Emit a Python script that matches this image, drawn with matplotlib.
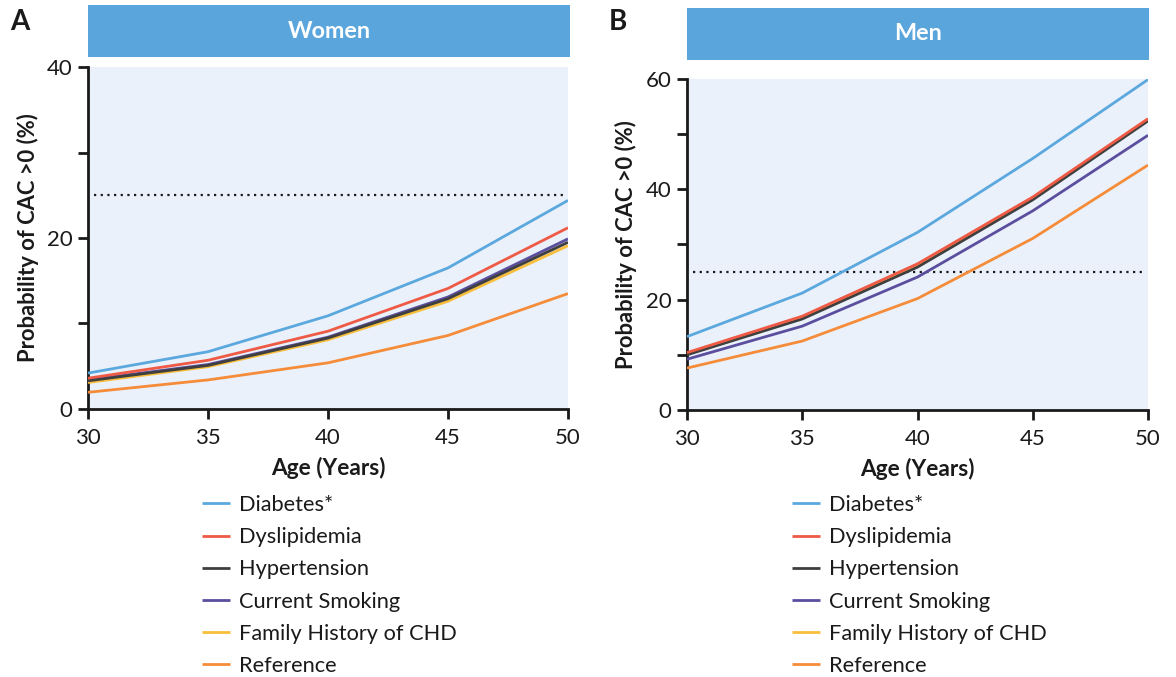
import matplotlib
matplotlib.use("Agg")
import matplotlib.pyplot as plt
from matplotlib.patches import Rectangle

plt.rcParams['font.family'] = ['Lato', 'DejaVu Sans']

ages = [30, 35, 40, 45, 50]
series_names = ["Diabetes*", "Dyslipidemia", "Hypertension", "Current Smoking",
                "Family History of CHD", "Reference"]
series_colors = ["#5BA8DE", "#EE5A45", "#3F3F3F", "#5B4E9E", "#F8BE3C", "#F58C3A"]

# Predicted probability of CAC > 0 (%) by age
women_diabetes = [4.2, 6.7, 10.9, 16.5, 24.4]
women_dyslipidemia = [3.6, 5.7, 9.1, 14.1, 21.2]
women_hypertension = [3.3, 5.1, 8.3, 12.9, 19.5]
women_smoking = [3.4, 5.2, 8.4, 13.1, 19.9]
women_family_history = [3.1, 4.95, 8.1, 12.6, 19.1]
women_reference = [1.95, 3.4, 5.4, 8.6, 13.5]

men_diabetes = [13.3, 21.2, 32.2, 45.6, 59.9]
men_dyslipidemia = [10.4, 17.0, 26.5, 38.6, 52.8]
men_hypertension = [10.0, 16.5, 25.9, 38.1, 52.4]
men_smoking = [9.2, 15.2, 24.1, 36.1, 49.8]
men_family_history = [10.3, 16.8, 26.4, 38.5, 52.7]
men_reference = [7.6, 12.5, 20.2, 31.1, 44.4]

threshold = 25

panels = [
    dict(letter="A", title="Women", ymax=40, ymajor=[0, 20, 40], yminor=[10, 30],
         data=[women_diabetes, women_dyslipidemia, women_hypertension,
               women_smoking, women_family_history, women_reference]),
    dict(letter="B", title="Men", ymax=60, ymajor=[0, 20, 40, 60], yminor=[10, 30, 50],
         data=[men_diabetes, men_dyslipidemia, men_hypertension,
               men_smoking, men_family_history, men_reference]),
]

W, H = 1176, 677
fig = plt.figure(figsize=(W / 100, H / 100), dpi=100)

# pixel boxes: axes (left, top, right, bottom), header (left, top, right, bottom)
ax_boxes = [(88, 67, 568, 409), (687, 79, 1148, 410)]
header_boxes = [(88, 5, 570, 57), (687, 8, 1149, 60)]
letter_pos = [(10, 22), (609, 22)]
ylabel_x = [28, 626]
legend_pos = [(202, 495), (792, 495)]

bg = "#EAF1FA"
header_color = "#5AA6DC"
ink = "#1a1a1a"
draw_order = [5, 4, 3, 2, 1, 0]

for p, (l, t, r, b), (hl, ht, hr, hb), (lx, ly), ylx, (gx, gy) in zip(
        panels, ax_boxes, header_boxes, letter_pos, ylabel_x, legend_pos):
    ax = fig.add_axes([l / W, 1 - b / H, (r - l) / W, (b - t) / H])
    ax.set_facecolor(bg)
    ax.set_xlim(30, 50)
    ax.set_ylim(0, p["ymax"])
    for s in ["top", "right"]:
        ax.spines[s].set_visible(False)
    for s in ["left", "bottom"]:
        ax.spines[s].set_linewidth(2)
        ax.spines[s].set_color(ink)
    ax.set_xticks(ages)
    ax.set_yticks(p["ymajor"])
    ax.set_yticks(p["yminor"], minor=True)
    ax.tick_params(axis="both", which="both", direction="out", length=7, width=2,
                   color=ink, labelsize=16, labelcolor=ink, pad=4)
    ax.tick_params(axis="x", pad=7)

    ax.axhline(threshold, xmin=0.012, xmax=0.99, color=ink, lw=1.6,
               linestyle=(0, (1, 2)), zorder=2)

    handles = [None] * len(series_names)
    for i in draw_order:
        ln, = ax.plot(ages, p["data"][i], color=series_colors[i], lw=2,
                      label=series_names[i], zorder=3, solid_capstyle="butt")
        handles[i] = ln

    ax.set_xlabel("Age (Years)", fontsize=16.3, fontweight="bold", color=ink,
                  labelpad=6)
    fig.text(ylx / W, 1 - ((t + b) / 2) / H, "Probability of CAC >0 (%)",
             rotation=90, ha="center", va="center", fontsize=15.8,
             fontweight="bold", color=ink)

    fig.patches.append(Rectangle((hl / W, 1 - hb / H), (hr - hl) / W, (hb - ht) / H,
                                 transform=fig.transFigure, facecolor=header_color,
                                 edgecolor="none"))
    fig.text(((hl + hr) / 2) / W, 1 - ((ht + hb) / 2) / H, p["title"],
             ha="center", va="center", color="white", fontsize=16.8, fontweight="bold")
    fig.text(lx / W, 1 - ly / H, p["letter"], ha="left", va="center",
             fontsize=20, fontweight="bold", color=ink)

    leg = fig.legend(handles=handles, loc="upper left",
                     bbox_to_anchor=(gx / W, 1 - gy / H), frameon=False,
                     fontsize=15.7, handlelength=1.3, handletextpad=0.4,
                     labelspacing=0.56, borderaxespad=0, borderpad=0)
    for txt in leg.get_texts():
        txt.set_color(ink)

fig.savefig("out.png", dpi=100)
